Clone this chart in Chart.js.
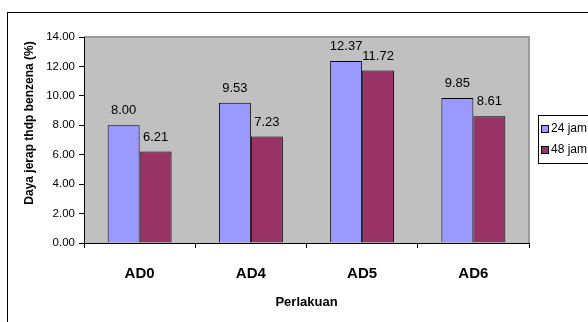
<!DOCTYPE html>
<html>
<head>
<meta charset="utf-8">
<script src="https://cdn.jsdelivr.net/npm/chart.js@4/dist/chart.umd.min.js"></script>
<style>
  html, body { margin: 0; padding: 0; background: #ffffff; overflow: hidden; }
  #wrap { width: 588px; height: 322px; position: relative; }
</style>
</head>
<body>
<div id="wrap"><canvas id="c" width="588" height="322"></canvas></div>
<script>
// Adsorption capacity toward benzene per treatment, after 24 h and 48 h
const categories = ['AD0', 'AD4', 'AD5', 'AD6'];
const series24 = [8.00, 9.53, 12.37, 9.85];
const series48 = [6.21, 7.23, 11.72, 8.61];
const seriesNames = ['24 jam', '48 jam'];
const yTicks = [0, 2, 4, 6, 8, 10, 12, 14];
const yTitle = 'Daya jerap thdp benzena (%)';

const FONT = '"Liberation Sans", Arial, sans-serif';

// Gray plot area, outer frame, value labels, y title and the legend box
const decor = {
  id: 'decor',
  beforeDraw(chart) {
    const { ctx, chartArea: a } = chart;
    ctx.save();
    ctx.fillStyle = '#ffffff';
    ctx.fillRect(0, 0, chart.width, chart.height);
    ctx.strokeStyle = '#000000';
    ctx.lineWidth = 1;
    ctx.strokeRect(7.5, 12.5, 700, 400);
    ctx.fillStyle = '#C0C0C0';
    ctx.fillRect(a.left, a.top, a.right - a.left, a.bottom - a.top);
    ctx.strokeStyle = '#9a9a9a';
    ctx.lineWidth = 2;
    ctx.beginPath();
    ctx.moveTo(a.left, a.top);
    ctx.lineTo(a.right, a.top);
    ctx.lineTo(a.right, a.bottom);
    ctx.stroke();
    // rotated y-axis title
    ctx.translate(30, 123);
    ctx.rotate(-Math.PI / 2);
    ctx.font = 'bold 12px ' + FONT;
    ctx.fillStyle = '#000000';
    ctx.textAlign = 'center';
    ctx.textBaseline = 'middle';
    ctx.fillText(yTitle, 0, 0);
    ctx.restore();
  },
  afterDatasetsDraw(chart) {
    const { ctx } = chart;
    ctx.save();
    ctx.font = '13px ' + FONT;
    ctx.fillStyle = '#000000';
    ctx.textAlign = 'center';
    ctx.textBaseline = 'bottom';
    chart.data.datasets.forEach((ds, i) => {
      chart.getDatasetMeta(i).data.forEach((bar, j) => {
        ctx.fillText(ds.data[j].toFixed(2), bar.x, bar.y - 8);
      });
    });
    ctx.restore();
  },
  afterDraw(chart) {
    const { ctx } = chart;
    ctx.save();
    // legend box
    ctx.strokeStyle = '#000000';
    ctx.lineWidth = 1;
    ctx.fillStyle = '#ffffff';
    ctx.fillRect(538.5, 115.5, 80, 48);
    ctx.strokeRect(538.5, 115.5, 80, 48);
    ctx.font = '12px ' + FONT;
    ctx.textAlign = 'left';
    ctx.textBaseline = 'middle';
    chart.data.datasets.forEach((ds, i) => {
      const cy = 129 + i * 21;
      ctx.fillStyle = ds.backgroundColor;
      ctx.fillRect(541.5, cy - 3.5, 7, 7);
      ctx.strokeRect(541.5, cy - 3.5, 7, 7);
      ctx.fillStyle = '#000000';
      ctx.fillText(ds.label, 551, cy);
    });
    ctx.restore();
  }
};

new Chart(document.getElementById('c'), {
  type: 'bar',
  data: {
    labels: categories,
    datasets: [
      { label: seriesNames[0], data: series24, backgroundColor: '#9999FF',
        borderColor: '#000000', borderWidth: 1 },
      { label: seriesNames[1], data: series48, backgroundColor: '#993366',
        borderColor: '#000000', borderWidth: 1 }
    ]
  },
  options: {
    responsive: false,
    animation: false,
    devicePixelRatio: 1,
    layout: { padding: { left: 8, top: 37, right: 59, bottom: 12 } },
    datasets: { bar: { categoryPercentage: 0.575, barPercentage: 1.0 } },
    plugins: { legend: { display: false }, tooltip: { enabled: false } },
    scales: {
      x: {
        offset: true,
        grid: { display: true, drawOnChartArea: false, offset: true,
                tickLength: 5, color: '#000000' },
        border: { display: true, color: '#000000', width: 1 },
        ticks: { color: '#000000', font: { family: FONT, size: 15, weight: 'bold' },
                 padding: 17, maxRotation: 0 },
        title: { display: true, text: 'Perlakuan', color: '#000000',
                 font: { family: FONT, size: 13, weight: 'bold' }, padding: { top: 8, bottom: 0 } },
        afterFit(scale) { scale.height = 322 - 243 - 12; }
      },
      y: {
        min: 0, max: 14,
        afterBuildTicks(scale) { scale.ticks = yTicks.map(v => ({ value: v })); },
        grid: { display: true, drawOnChartArea: false, tickLength: 5, color: '#000000' },
        border: { display: true, color: '#000000', width: 1 },
        ticks: { color: '#000000', font: { family: FONT, size: 11.5 }, padding: 4,
                 callback: v => Number(v).toFixed(2) },
        title: { display: false },
        afterFit(scale) { scale.width = 84 - 8; }
      }
    }
  },
  plugins: [decor]
});
</script>
</body>
</html>
